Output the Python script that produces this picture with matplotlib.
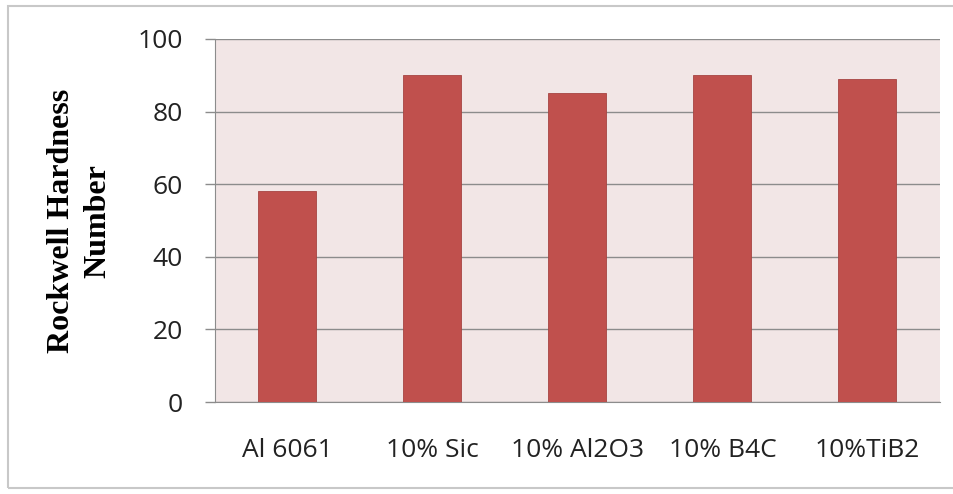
import numpy as np
import matplotlib
matplotlib.use("Agg")
import matplotlib.pyplot as plt
from matplotlib.patches import Rectangle

# Dureté Rockwell des composites
materiaux = ["Al 6061", "10% Sic", "10% Al2O3", "10% B4C", "10%TiB2"]
durete = [58, 90, 85, 90, 89]
graduations = [0, 20, 40, 60, 80, 100]

fig = plt.figure(figsize=(9.54, 4.94), dpi=100)
fig.patch.set_facecolor("white")
# cadre gris autour du graphique
fig.patches.append(Rectangle((8/954, 6/494), 1.0, 482/494, transform=fig.transFigure,
                             fill=False, edgecolor="#c8c8c8", linewidth=1.5))

ax = fig.add_axes([215/954, 1-402/494, (940-215)/954, (402-39)/494])
ax.set_facecolor("#f2e6e6")

x = np.arange(len(materiaux))
ax.bar(x, durete, width=0.4, color="#c0504d", edgecolor="#a64542", linewidth=0.6, zorder=3)

ax.set_xlim(-0.5, len(materiaux) - 0.5)
ax.set_ylim(0, 100)
ax.set_yticks(graduations)
ax.yaxis.grid(True, color="#8c8c8c", linewidth=1, zorder=1)
ax.set_xticks(x)
ax.set_xticklabels(materiaux, fontsize=19, family="Open Sans", color="#222222")
ax.set_yticklabels([str(g) for g in graduations], fontsize=19, family="Open Sans", color="#222222")
ax.tick_params(axis="x", length=0, pad=26)
ax.tick_params(axis="y", length=7, width=1, color="#8c8c8c", pad=16)

for cote in ["top", "right"]:
    ax.spines[cote].set_visible(False)
ax.spines["left"].set_color("#8c8c8c")
ax.spines["bottom"].set_color("#8c8c8c")

fig.text(80/954, 1-221/494, "Rockwell Hardness\nNumber", fontsize=23, fontweight="bold",
         family="Liberation Serif", rotation=90, ha="center", va="center",
         multialignment="center", linespacing=1.35)

fig.savefig("out.png", dpi=100)
